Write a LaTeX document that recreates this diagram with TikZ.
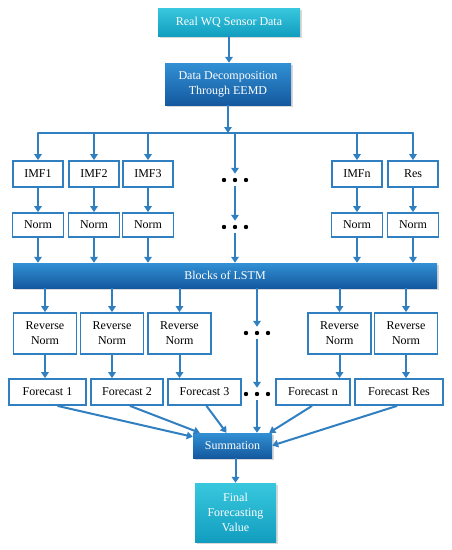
\documentclass[tikz,border=0pt]{standalone}
\usepackage{fontspec}
\setmainfont{Liberation Serif}
\usetikzlibrary{arrows.meta,shadows}
\definecolor{LineBlue}{HTML}{2F7FC1}
\definecolor{CyanTop}{HTML}{38C8DE}
\definecolor{CyanBot}{HTML}{129DBF}
\definecolor{BlueTop}{HTML}{3290D4}
\definecolor{BlueBot}{HTML}{14599F}
\newcommand{\fs}{\fontsize{12}{15}\selectfont}
\tikzset{
  wb/.style={draw=LineBlue, line width=1.8pt, fill=white, font=\fs, align=center, inner sep=2pt},
  cyanbox/.style={top color=CyanTop, bottom color=CyanBot, text=white, font=\fs, align=center, inner sep=2pt,
                  drop shadow={opacity=0.3, shadow xshift=1.5pt, shadow yshift=-1.5pt}},
  bluebox/.style={cyanbox, top color=BlueTop, bottom color=BlueBot},
  flow/.style={-{Triangle[width=7.5pt,length=6pt]}, line width=2pt, draw=LineBlue},
  wire/.style={line width=2pt, draw=LineBlue, line cap=round},
  dots/.style={minimum width=28pt, minimum height=12pt, inner sep=0pt,
               path picture={\foreach \u in {-11,0,11} \fill[black] (path picture bounding box.center) ++(\u pt,0pt) circle (2.2pt);}}
}

\begin{document}
\begin{tikzpicture}[x=1pt, y=-1pt]
\useasboundingbox (0,0) rectangle (451,550);
% input and decomposition
\node[cyanbox, minimum width=142, minimum height=28] (src) at (229,22) {Real WQ Sensor Data};
\node[bluebox, minimum width=126, minimum height=42] (eemd) at (228,84) {Data Decomposition\\Through EEMD};
\coordinate (bus) at (229,133);
% components and normalisation
\foreach \k/\x/\t in {1/38/IMF1, 2/94/IMF2, 3/148/IMF3, 4/357/IMFn, 5/413/Res} {
  \node[wb, minimum width=50, minimum height=26] (i\k) at (\x,174) {\t};
  \node[wb, minimum width=51, minimum height=24] (n\k) at (\x,225) {Norm};
}
\node[bluebox, minimum width=424, minimum height=25] (lstm) at (225,275.5) {Blocks of LSTM};
\foreach \k/\x in {1/45, 2/112, 3/179.5, 4/339.5, 5/406}
  \node[wb, minimum width=63, minimum height=41] (r\k) at (\x,333.5) {Reverse\\Norm};
\foreach \k/\x/\w/\t in {1/47.5/77/Forecast 1, 2/127/72/Forecast 2, 3/204.5/73/Forecast 3, 4/313/74/Forecast n, 5/399/88/Forecast Res}
  \node[wb, minimum width=\w, minimum height=26] (f\k) at (\x,392) {\t};
\node[bluebox, minimum width=79, minimum height=25] (sum) at (232.5,445.5) {Summation};
\node[cyanbox, minimum width=81, minimum height=59] (fin) at (235.5,512.5) {Final\\Forecasting\\Value};
% elided columns
\node[dots] (d1) at (235,180) {};
\node[dots] (d2) at (235,227) {};
\node[dots] (d3) at (257,333) {};
\node[dots] (d4) at (257,394) {};
% connectors
\draw[flow] (src.south) -- (src.south |- eemd.north);
\draw[flow] (eemd.south) -- (eemd.south |- bus);
\draw[wire] (i1 |- bus) -- (i5 |- bus);
\foreach \k in {1,...,5} {
  \draw[flow] (i\k |- bus) -- (i\k.north);
  \draw[flow] (i\k.south) -- (n\k.north);
  \draw[flow] (n\k.south) -- (n\k.south |- lstm.north);
  \draw[flow] (r\k |- lstm.south) -- (r\k.north);
  \draw[flow] (r\k.south) -- (r\k.south |- f\k.north);
}
\draw[flow] (bus -| d1) -- (d1.north);
\draw[flow] (d1.south) -- (d2.north);
\draw[flow] (d2.south) -- (d2 |- lstm.north);
\draw[flow] (d3 |- lstm.south) -- (d3.north);
\draw[flow] (d3.south) -- (d4.north);
\draw[flow] (d4.south) -- (d4 |- sum.north);
\draw[flow] ([xshift=10]f1.south) -- ([yshift=-4]sum.north west);
\draw[flow] ([xshift=3]f2.south) -- ([xshift=7]sum.north west);
\draw[flow] ([xshift=2]f3.south) -- ([xshift=-6]sum.north);
\draw[flow] ([xshift=-1]f4.south) -- ([xshift=-3]sum.north east);
\draw[flow] ([xshift=-2]f5.south) -- (sum.east);
\draw[flow] (sum.south -| fin.north) -- (fin.north);
\end{tikzpicture}
\end{document}
